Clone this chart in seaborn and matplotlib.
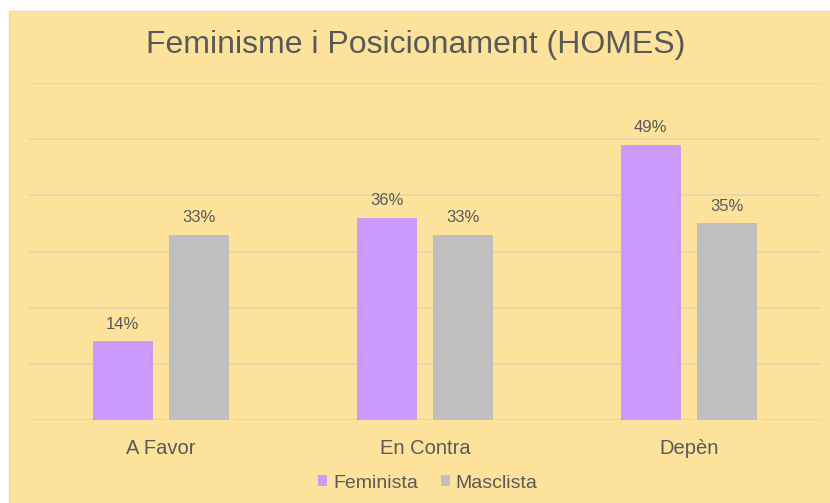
import pandas as pd
import matplotlib
matplotlib.use("Agg")
import matplotlib.pyplot as plt
from matplotlib.patches import Rectangle
import seaborn as sns

# Data
categories = ["A Favor", "En Contra", "Depèn"]
feminista = [14, 36, 49]
masclista = [33, 33, 35]
series_names = ["Feminista", "Masclista"]

df = pd.DataFrame({
    "posicio": categories * 2,
    "grup": [series_names[0]] * 3 + [series_names[1]] * 3,
    "valor": feminista + masclista,
})

bg = "#FCE29B"
text_col = "#595959"

sns.set_theme(style="white")
plt.rcParams["font.family"] = ["Liberation Sans", "DejaVu Sans"]

fig = plt.figure(figsize=(8.3, 5.03), dpi=100)
fig.patch.set_facecolor("white")
fig.patches.append(Rectangle((9 / 830, 0), 1, (503 - 11) / 503, transform=fig.transFigure,
                             facecolor=bg, edgecolor="#E8D9B0", linewidth=1, zorder=-1))

ax = fig.add_axes([29 / 830, 83 / 503, 792 / 830, 337 / 503])
ax.set_facecolor(bg)

sns.barplot(data=df, x="posicio", y="valor", hue="grup", ax=ax,
            palette=["#CC99FF", "#BFBFBF"], width=0.58, gap=0.22,
            saturation=1, linewidth=0, legend=True)

for cont in ax.containers:
    ax.bar_label(cont, labels=[f"{int(v)}%" for v in cont.datavalues],
                 padding=7, fontsize=12, color=text_col)

ax.set_ylim(0, 60)
ax.set_xlim(-0.5, 2.5)
ax.set_yticks(range(0, 61, 10))
ax.set_yticklabels([])
ax.tick_params(axis="y", length=0)
ax.tick_params(axis="x", length=0, labelsize=14.5, labelcolor=text_col, pad=14)
ax.yaxis.grid(True, color="#E6D7AA", linewidth=1.2)
ax.set_axisbelow(True)
for s in ax.spines.values():
    s.set_visible(False)
ax.set_xlabel("")
ax.set_ylabel("")

ax.legend(loc="center", bbox_to_anchor=(428 / 830, 1 - 483 / 503), bbox_transform=fig.transFigure,
          ncol=2, frameon=False, fontsize=14, labelcolor=text_col,
          handlelength=0.45, handleheight=0.45, handletextpad=0.3, columnspacing=1.2)

fig.text(416 / 830, 1 - 45 / 503, "Feminisme i Posicionament (HOMES)",
         ha="center", va="center", fontsize=23, color=text_col)

fig.savefig("out.png", dpi=100, facecolor=fig.get_facecolor())
